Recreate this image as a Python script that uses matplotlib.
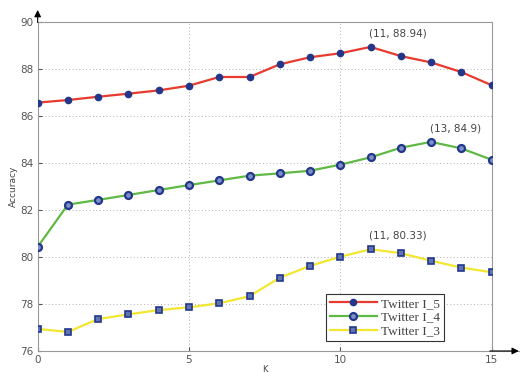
import numpy as np
import matplotlib
matplotlib.use("Agg")
import matplotlib.pyplot as plt

k = list(range(16))
twitter_l5 = [86.57, 86.68, 86.82, 86.95, 87.09, 87.29, 87.66, 87.66,
              88.2, 88.5, 88.67, 88.94, 88.55, 88.28, 87.87, 87.31]
twitter_l4 = [80.43, 82.23, 82.43, 82.64, 82.85, 83.06, 83.26, 83.46,
              83.56, 83.67, 83.93, 84.24, 84.65, 84.9, 84.62, 84.14]
twitter_l3 = [76.94, 76.81, 77.36, 77.56, 77.74, 77.86, 78.03, 78.33,
              79.12, 79.62, 80.01, 80.33, 80.16, 79.84, 79.55, 79.35]
labels = ["Twitter I_5", "Twitter I_4", "Twitter I_3"]
peaks = [(11, 88.94, "(11, 88.94)"), (13, 84.9, "(13, 84.9)"), (11, 80.33, "(11, 80.33)")]

fig = plt.figure(figsize=(5.23, 3.73), dpi=100)
ax = fig.add_axes([0.072, 0.059, 0.868, 0.882])

mk = '#23378a'
ax.plot(k, twitter_l5, color='#e83a2e', lw=1.6, marker='o', ms=4.5,
        mfc=mk, mec=mk, label=labels[0], zorder=3)
ax.plot(k, twitter_l4, color='#5fb944', lw=1.6, marker='o', ms=5,
        mfc='#7d90c8', mec=mk, mew=1.6, label=labels[1], zorder=3)
ax.plot(k, twitter_l3, color='#f3e631', lw=1.6, marker='s', ms=5,
        mfc='#6073b5', mec=mk, mew=1.2, label=labels[2], zorder=3)

for x, y, t in peaks:
    ax.annotate(t, xy=(x, y), xytext=(-1, 6), textcoords='offset points',
                ha='left', va='bottom', fontsize=7.5, color='#444444')

ax.set_xlim(0, 15)
ax.set_ylim(76, 90)
ax.set_xticks([0, 5, 10, 15])
ax.set_yticks(np.arange(76, 91, 2))
ax.grid(True, linestyle=(0, (1, 2.5)), color='#b0b0b0', lw=0.7)
for s in ax.spines.values():
    s.set_color('#999999')
ax.tick_params(labelsize=7.5, colors='#555555', length=3, direction='in', pad=3)
ax.set_xlabel('K', fontsize=6, color='#444444', labelpad=0)
ax.set_ylabel('Accuracy', fontsize=6.5, color='#444444', labelpad=2)

ax.annotate('', xy=(0, 1.045), xytext=(0, 0.99), xycoords='axes fraction',
            arrowprops=dict(arrowstyle='-|>', color='black', lw=0.8,
                            mutation_scale=10))
ax.annotate('', xy=(1.066, 0), xytext=(0.99, 0), xycoords='axes fraction',
            arrowprops=dict(arrowstyle='-|>', color='black', lw=0.8,
                            mutation_scale=10))
ax.plot([1, 1.06], [0, 0], transform=ax.transAxes, color='#999999', lw=0.8, clip_on=False)

leg = ax.legend(loc='lower right', bbox_to_anchor=(0.895, 0.03),
                prop={'family': 'Liberation Serif', 'size': 9.5},
                handlelength=3.6, borderpad=0.3, labelspacing=0.1,
                handletextpad=0.3, borderaxespad=0, fancybox=False,
                edgecolor='#333333', framealpha=1)
leg.get_frame().set_linewidth(0.8)
for t in leg.get_texts():
    t.set_color('#444444')

fig.savefig('out.png', dpi=100)
